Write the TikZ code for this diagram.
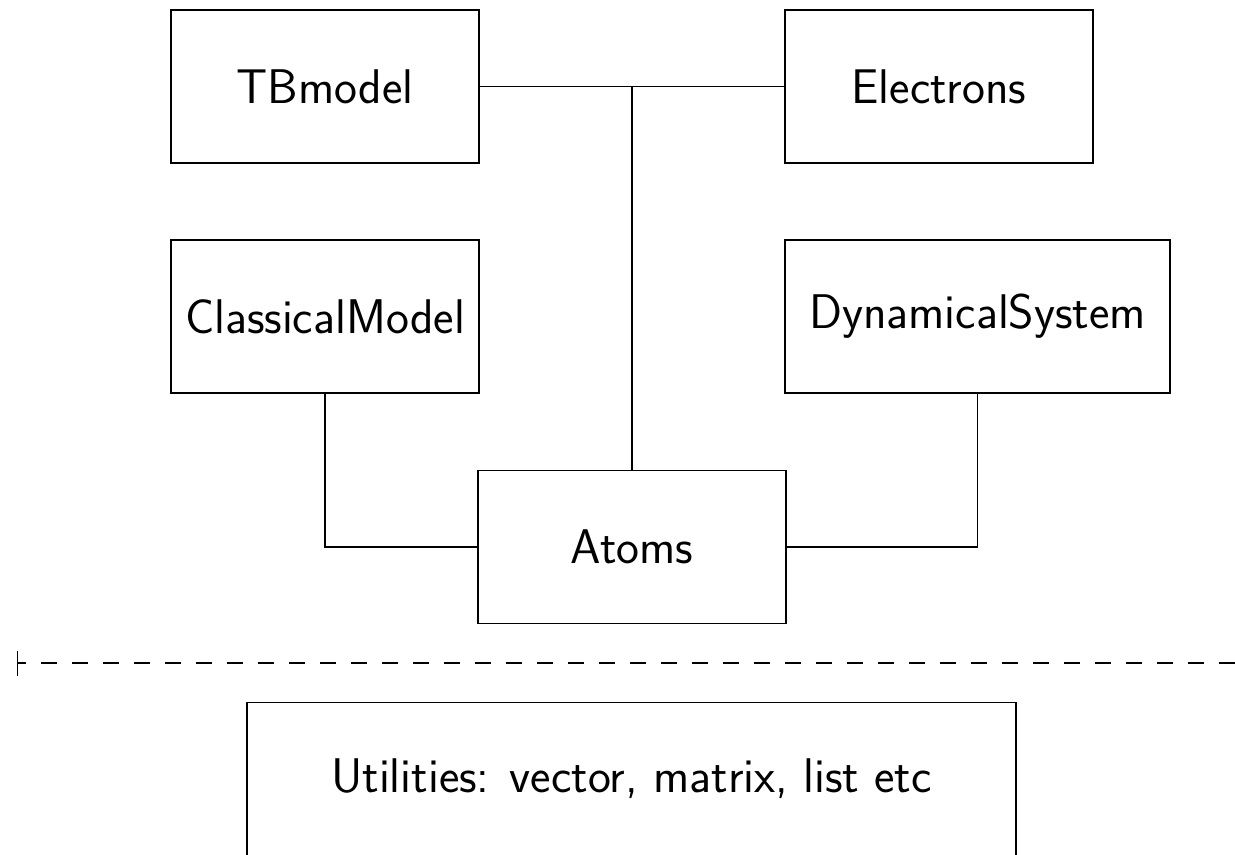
\documentclass[tikz,border=0pt]{standalone}
\usepackage{fontspec}
\usepackage{tikz}
\usetikzlibrary{shapes,arrows,arrows.meta,positioning}
\tikzstyle{block} = [rectangle, draw, line width=0.6pt, inner sep=0pt, text centered, minimum width=6.16cm, minimum height=3.06cm, font=\fontsize{27.7}{33}\sffamily]
\tikzstyle{line} = [draw, line width=0.6pt]
\tikzstyle{divider} = [draw, line width=0.6pt, dash pattern=on 0.32cm off 0.3cm, dash phase=0.16cm, {Bar[width=0.5cm]}-]

\begin{document}
\begin{tikzpicture}[node distance=4.6cm]
    \useasboundingbox (0,0) rectangle (24.7,-17.08);
    \node [block] (tbmodel) at (6.5,-1.73) {TBmodel};
    \node [block, right of=tbmodel, node distance=12.28cm] (electrons) {Electrons};
    \node [block, below of=tbmodel] (classical) {ClassicalModel};
    \node [block, below of=electrons, xshift=0.77cm, minimum width=7.7cm] (dynamical) {DynamicalSystem};
    \node [block] (atoms) at (12.64,-10.94) {Atoms};
    \node [block, minimum width=15.38cm] (utilities) at (12.63,-15.58) {Utilities: vector, matrix, list etc};

    \coordinate (divL) at (0.34,-13.26);
    \coordinate (divR) at (25.2,-13.26);

    \path [line] (tbmodel) -- (electrons);
    \path [line] (atoms.north) -- (atoms.north |- tbmodel.east);
    \path [line] (classical.south) |- (atoms.west);
    \path [line] (dynamical.south) |- (atoms.east);
    \path [divider] (divL) -- (divR);
\end{tikzpicture}
\end{document}
